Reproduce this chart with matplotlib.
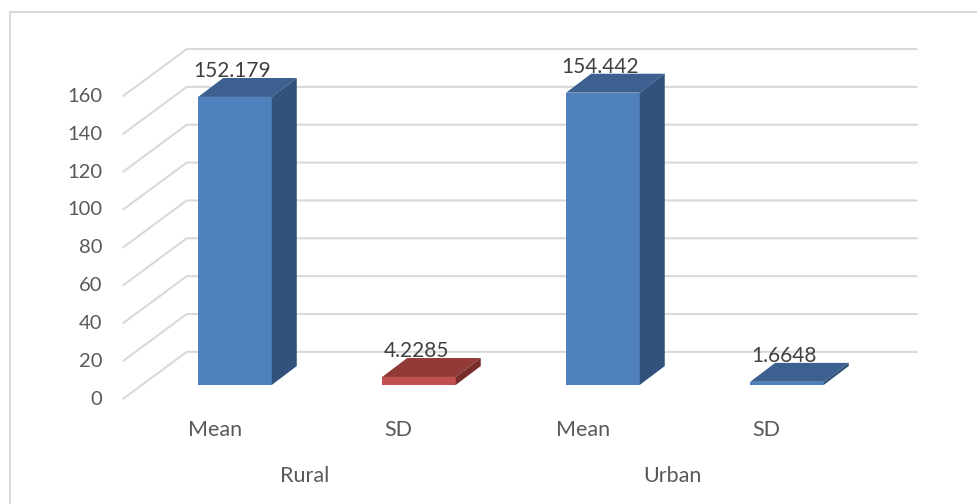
import matplotlib
matplotlib.use("Agg")
import matplotlib.pyplot as plt
from matplotlib.patches import Polygon, Rectangle
from matplotlib.lines import Line2D

plt.rcParams['font.family'] = ['Lato', 'DejaVu Sans']

# data
groups = ["Rural", "Urban"]
stats = ["Mean", "SD", "Mean", "SD"]
values = [152.179, 4.2285, 154.442, 1.6648]
value_labels = ["152.179", "4.2285", "154.442", "1.6648"]
yticks = [0, 20, 40, 60, 80, 100, 120, 140, 160]

# face colours (front, top, side) for each bar
front_cols = ["#4F81BD", "#C0504D", "#4F81BD", "#4F81BD"]
top_cols = ["#3C6190", "#913A38", "#3C6190", "#3C6190"]
side_cols = ["#32527D", "#782D2B", "#32527D", "#32527D"]

grid_col = "#D9D9D9"
txt_col = "#595959"

# 3d look
w = 0.40          # bar width (category units)
ddx = 0.136       # bar depth, x
ddy = 10.0        # bar depth, y (value units)
fx = -0.61        # floor front-left x
fdx = 0.348       # floor depth, x
f_front = -7.5    # floor front offset (value units)
f_back = 17.5     # back wall offset (value units)
wall_right = 3.71

fig = plt.figure(figsize=(9.77, 5.04), dpi=100)
ax = fig.add_axes([0, 0, 1, 1])
ax.set_xlim(-1.277, 4.033)
ax.set_ylim(-62.9, 203.4)
ax.axis("off")

# outer border of the chart area
fig.add_artist(Line2D([10 / 977, 1], [1 - 12 / 504, 1 - 12 / 504],
                      color=grid_col, lw=1.5, transform=fig.transFigure))
fig.add_artist(Line2D([10 / 977, 10 / 977], [0, 1 - 12 / 504],
                      color=grid_col, lw=1.5, transform=fig.transFigure))

# gridlines: slanted on the side, straight along the back wall
for t in yticks:
    ax.plot([fx, fx + fdx, wall_right], [t + f_front, t + f_back, t + f_back],
            color=grid_col, lw=1.5, zorder=1, solid_capstyle="butt")
    ax.text(fx - 0.11, t + f_front, str(t), ha="right", va="center",
            fontsize=14.5, color=txt_col)

# bars
for i, v in enumerate(values):
    x0 = i - w / 2
    x1 = i + w / 2
    ax.add_patch(Rectangle((x0, 0), w, v, facecolor=front_cols[i],
                           edgecolor="none", zorder=3))
    ax.add_patch(Polygon([(x0, v), (x1, v), (x1 + ddx, v + ddy), (x0 + ddx, v + ddy)],
                         closed=True, facecolor=top_cols[i], edgecolor="none", zorder=3))
    ax.add_patch(Polygon([(x1, 0), (x1, v), (x1 + ddx, v + ddy), (x1 + ddx, ddy)],
                         closed=True, facecolor=side_cols[i], edgecolor="none", zorder=3))
    ax.text(i - 0.015, v + 13.8, value_labels[i], ha="center", va="center",
            fontsize=15, color="#404040", zorder=4)
    ax.text(i - 0.11, -23.8, stats[i], ha="center", va="center",
            fontsize=15.5, color=txt_col)

for g, name in enumerate(groups):
    ax.text(2 * g + 0.5 - 0.12, -48.1, name, ha="center", va="center",
            fontsize=15.5, color=txt_col)

fig.savefig("out.png", dpi=100)
